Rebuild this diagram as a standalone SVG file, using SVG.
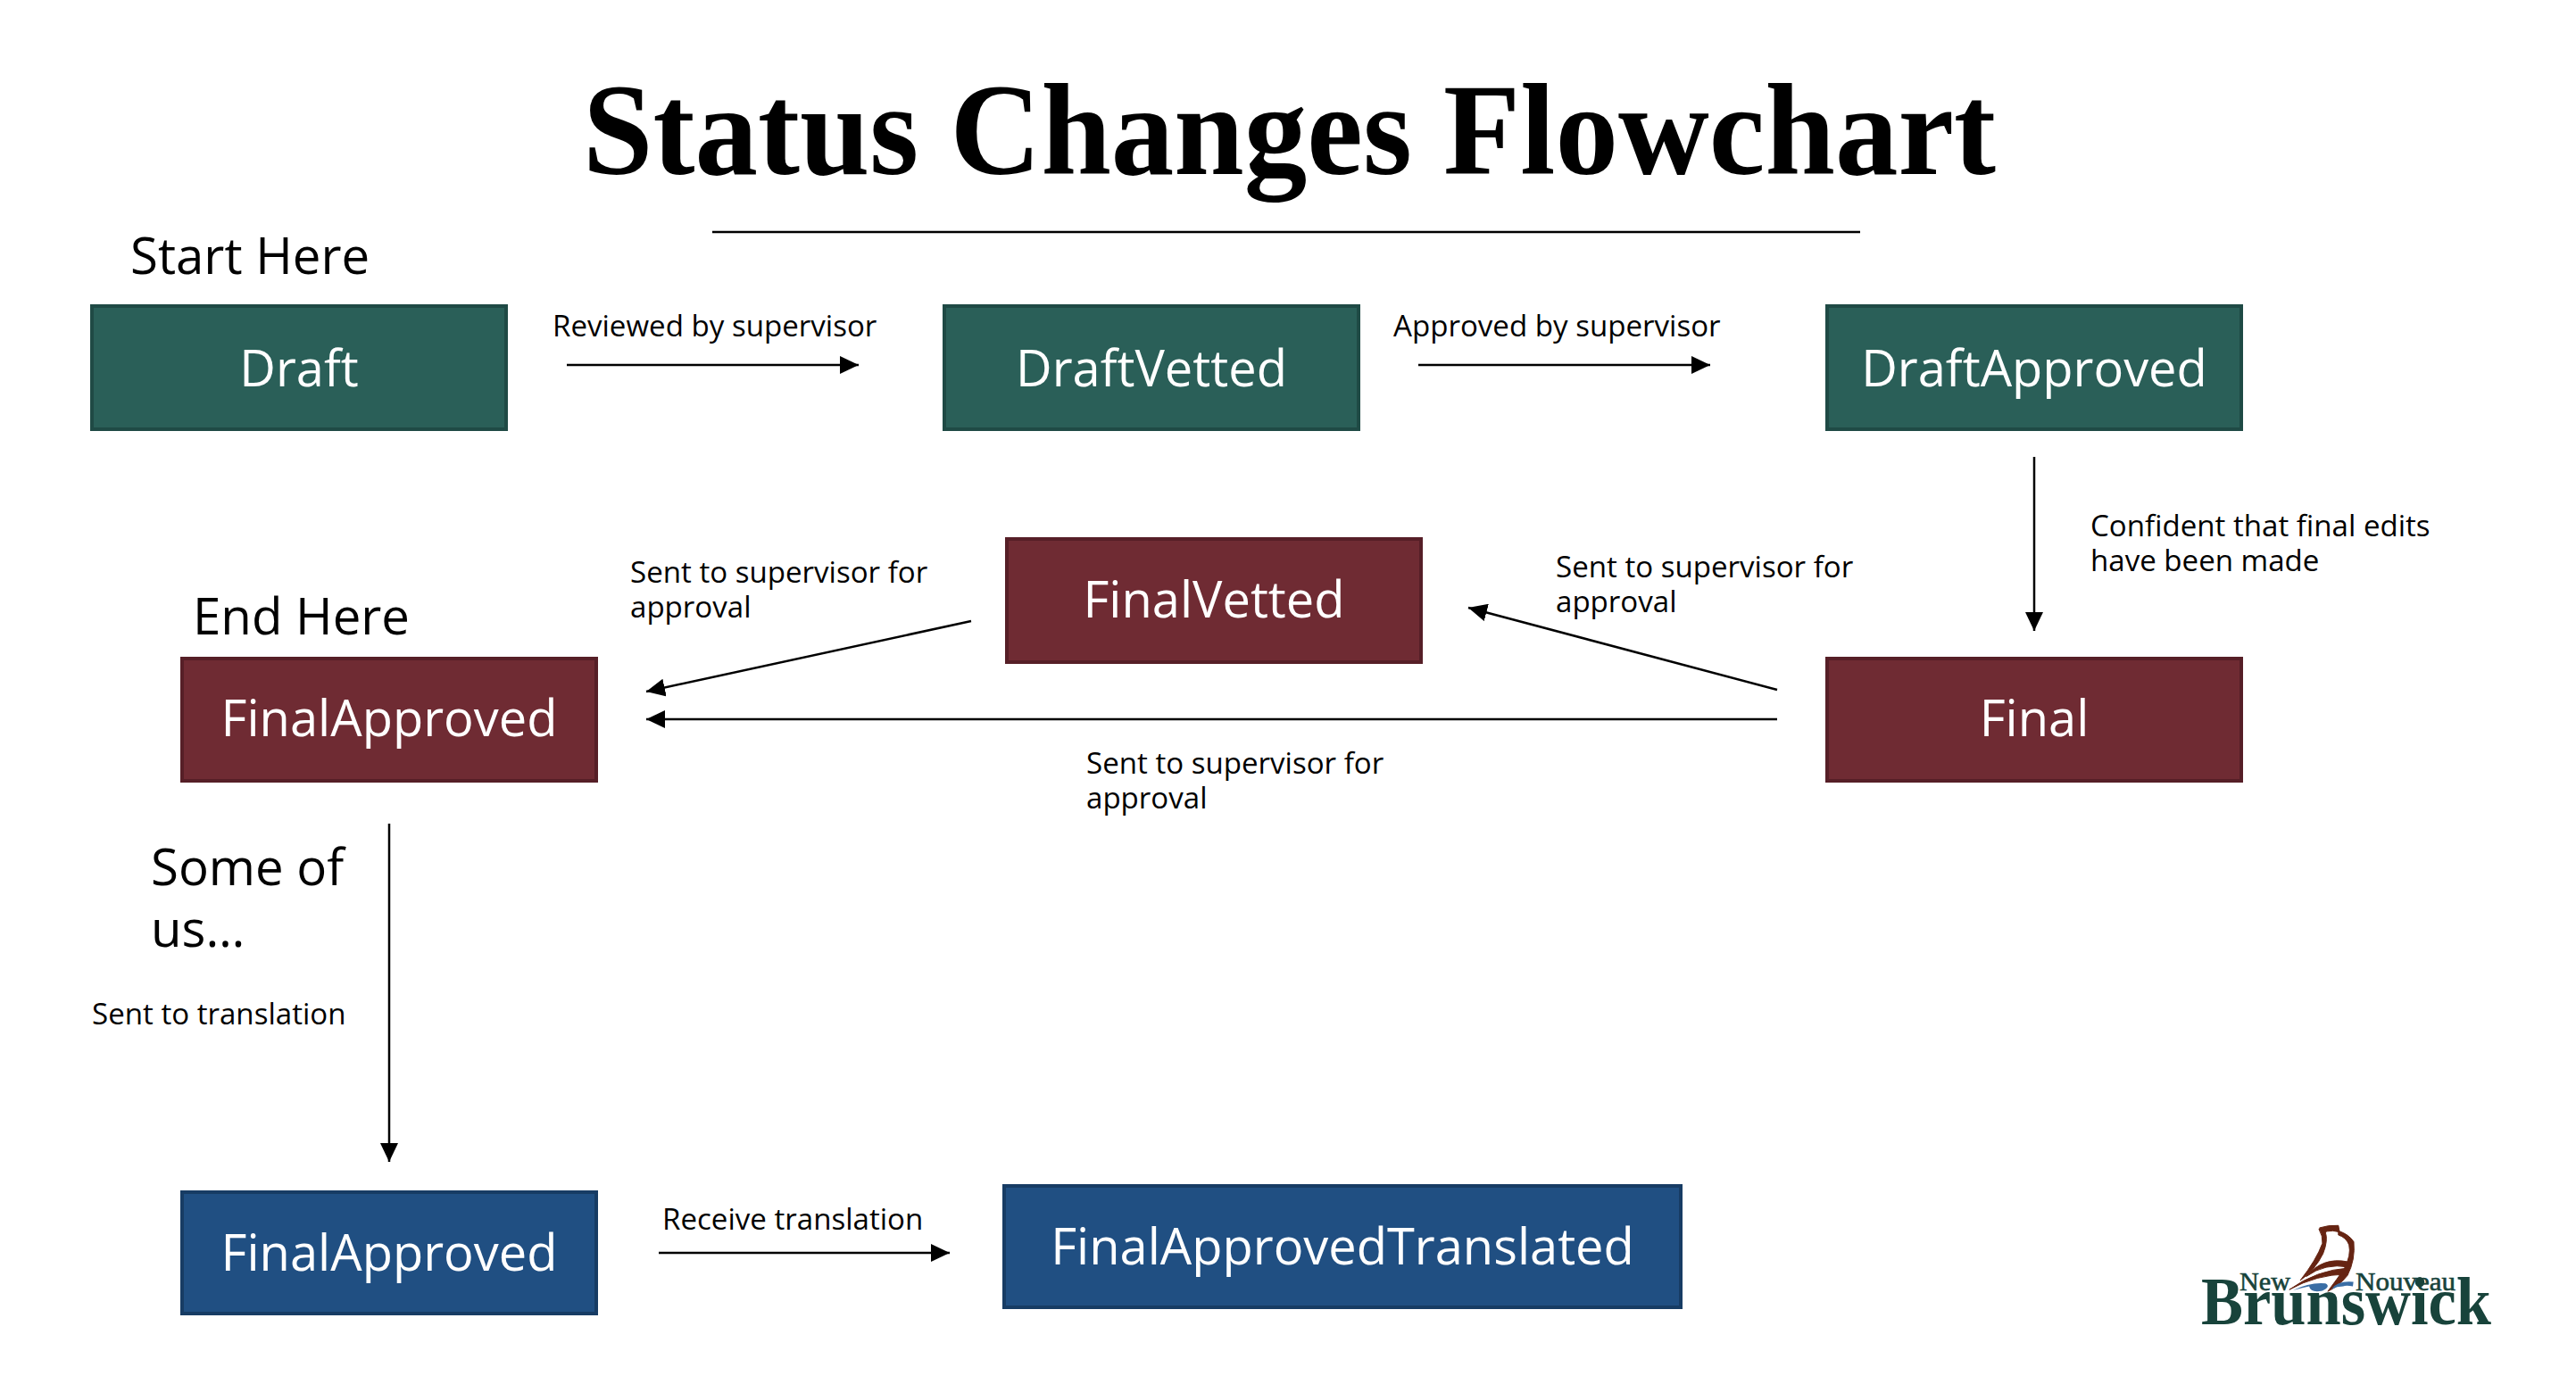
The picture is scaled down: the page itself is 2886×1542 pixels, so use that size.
<svg xmlns="http://www.w3.org/2000/svg" width="2886" height="1542" viewBox="0 0 2886 1542">
<style>
text{font-family:"Open Sans","Noto Sans",sans-serif;fill:#000}
.box{stroke-width:4}
.g{fill:#2a5f58;stroke:#1f4a45}
.r{fill:#6f2b33;stroke:#561f27}
.b{fill:#204f82;stroke:#173c64}
.n{font-size:56px;fill:#fff;text-anchor:middle}
.l{font-size:33.1px}
.h{font-size:56.4px}
.c{fill:none;stroke:#000;stroke-width:2.5;marker-end:url(#a)}
.ship{fill:#662412;stroke:#662412;stroke-width:3}
.wave{fill:#3a6ea5}
.lg{font-family:"Liberation Serif",serif;fill:#18433b}
</style>
<defs><marker id="a" markerUnits="userSpaceOnUse" markerWidth="22" markerHeight="20" refX="21" refY="10" orient="auto"><path d="M0 0L21 10L0 20Z" fill="#000"/></marker></defs>
<rect width="2886" height="1542" fill="#fff"/>
<text x="653" y="195" textLength="1583" lengthAdjust="spacingAndGlyphs" style="font-family:'Liberation Serif',serif;font-weight:700;font-size:146px">Status Changes Flowchart</text>
<line x1="798" y1="260" x2="2084" y2="260" stroke="#000" stroke-width="2.5"/>
<text class="h" x="146" y="307">Start Here</text>
<text class="h" x="216" y="711">End Here</text>
<text class="h" x="169" y="992">Some of</text>
<text class="h" x="169" y="1061">us…</text>
<g id="connectors">
<line class="c" x1="635" y1="409" x2="962" y2="409"/>
<line class="c" x1="1589" y1="409" x2="1916" y2="409"/>
<line class="c" x1="2279" y1="512" x2="2279" y2="707"/>
<line class="c" x1="1991" y1="773" x2="1645" y2="681"/>
<line class="c" x1="1991" y1="806" x2="724" y2="806"/>
<line class="c" x1="1088" y1="696" x2="724" y2="775"/>
<line class="c" x1="436" y1="923" x2="436" y2="1302"/>
<line class="c" x1="738" y1="1404" x2="1064" y2="1404"/>
</g>
<g id="labels">
<text class="l" x="619" y="377">Reviewed by supervisor</text>
<text class="l" x="1561" y="377">Approved by supervisor</text>
<text class="l" x="2342" y="601">Confident that final edits</text>
<text class="l" x="2342" y="640">have been made</text>
<text class="l" x="1743" y="647">Sent to supervisor for</text>
<text class="l" x="1743" y="686">approval</text>
<text class="l" x="706" y="653">Sent to supervisor for</text>
<text class="l" x="706" y="692">approval</text>
<text class="l" x="1217" y="867">Sent to supervisor for</text>
<text class="l" x="1217" y="906">approval</text>
<text class="l" x="103" y="1148">Sent to translation</text>
<text class="l" x="742" y="1378">Receive translation</text>
</g>
<g id="draft"><rect class="box g" x="103" y="343" width="464" height="138"/><text class="n" x="335" y="433">Draft</text></g>
<g id="draftvetted"><rect class="box g" x="1058" y="343" width="464" height="138"/><text class="n" x="1290" y="433">DraftVetted</text></g>
<g id="draftapproved"><rect class="box g" x="2047" y="343" width="464" height="138"/><text class="n" x="2279" y="433">DraftApproved</text></g>
<g id="finalvetted"><rect class="box r" x="1128" y="604" width="464" height="138"/><text class="n" x="1360" y="692">FinalVetted</text></g>
<g id="final"><rect class="box r" x="2047" y="738" width="464" height="137"/><text class="n" x="2279" y="825">Final</text></g>
<g id="finalapproved"><rect class="box r" x="204" y="738" width="464" height="137"/><text class="n" x="436" y="825">FinalApproved</text></g>
<g id="finalapproved2"><rect class="box b" x="204" y="1336" width="464" height="136"/><text class="n" x="436" y="1424">FinalApproved</text></g>
<g id="finalapprovedtranslated"><rect class="box b" x="1125" y="1329" width="758" height="136"/><text class="n" x="1504" y="1417">FinalApprovedTranslated</text></g>
<g id="logo">
<g transform="translate(2400 1340) scale(.331 .333)">
<path class="ship" d="M600 108Q630 98 664 100L668 122L645 118Q625 118 610 125Z"/>
<path class="ship" d="M598 112L620 122Q630 150 612 195Q585 250 535 285Q590 215 610 160Q612 135 598 112Z"/>
<path class="ship" d="M664 118Q700 130 716 155Q722 215 695 268Q665 305 628 322Q660 280 684 245Q708 200 700 165Q690 140 664 132Z"/>
<path class="ship" d="M555 272Q610 205 695 222L697 240Q620 225 555 272Z"/>
<path class="ship" d="M498 316Q590 250 700 243L693 264Q590 265 498 316Z"/>
<path class="wave" d="M510 318Q570 290 620 295Q640 305 610 320Q570 328 565 305Q540 310 510 318Z"/>
<path class="wave" d="M640 315Q660 285 715 290L713 305Q690 300 680 305Q660 305 640 315Z"/>
</g>
<text class="lg" x="2509" y="1446" font-size="30" textLength="57" lengthAdjust="spacingAndGlyphs" stroke="#18433b" stroke-width=".6">New</text>
<text class="lg" x="2639" y="1446" font-size="30" textLength="112" lengthAdjust="spacingAndGlyphs" stroke="#18433b" stroke-width=".6">Nouveau</text>
<text class="lg" x="2466" y="1484" font-size="77" font-weight="700" textLength="325" lengthAdjust="spacingAndGlyphs">Brunswick</text>
</g>
</svg>
